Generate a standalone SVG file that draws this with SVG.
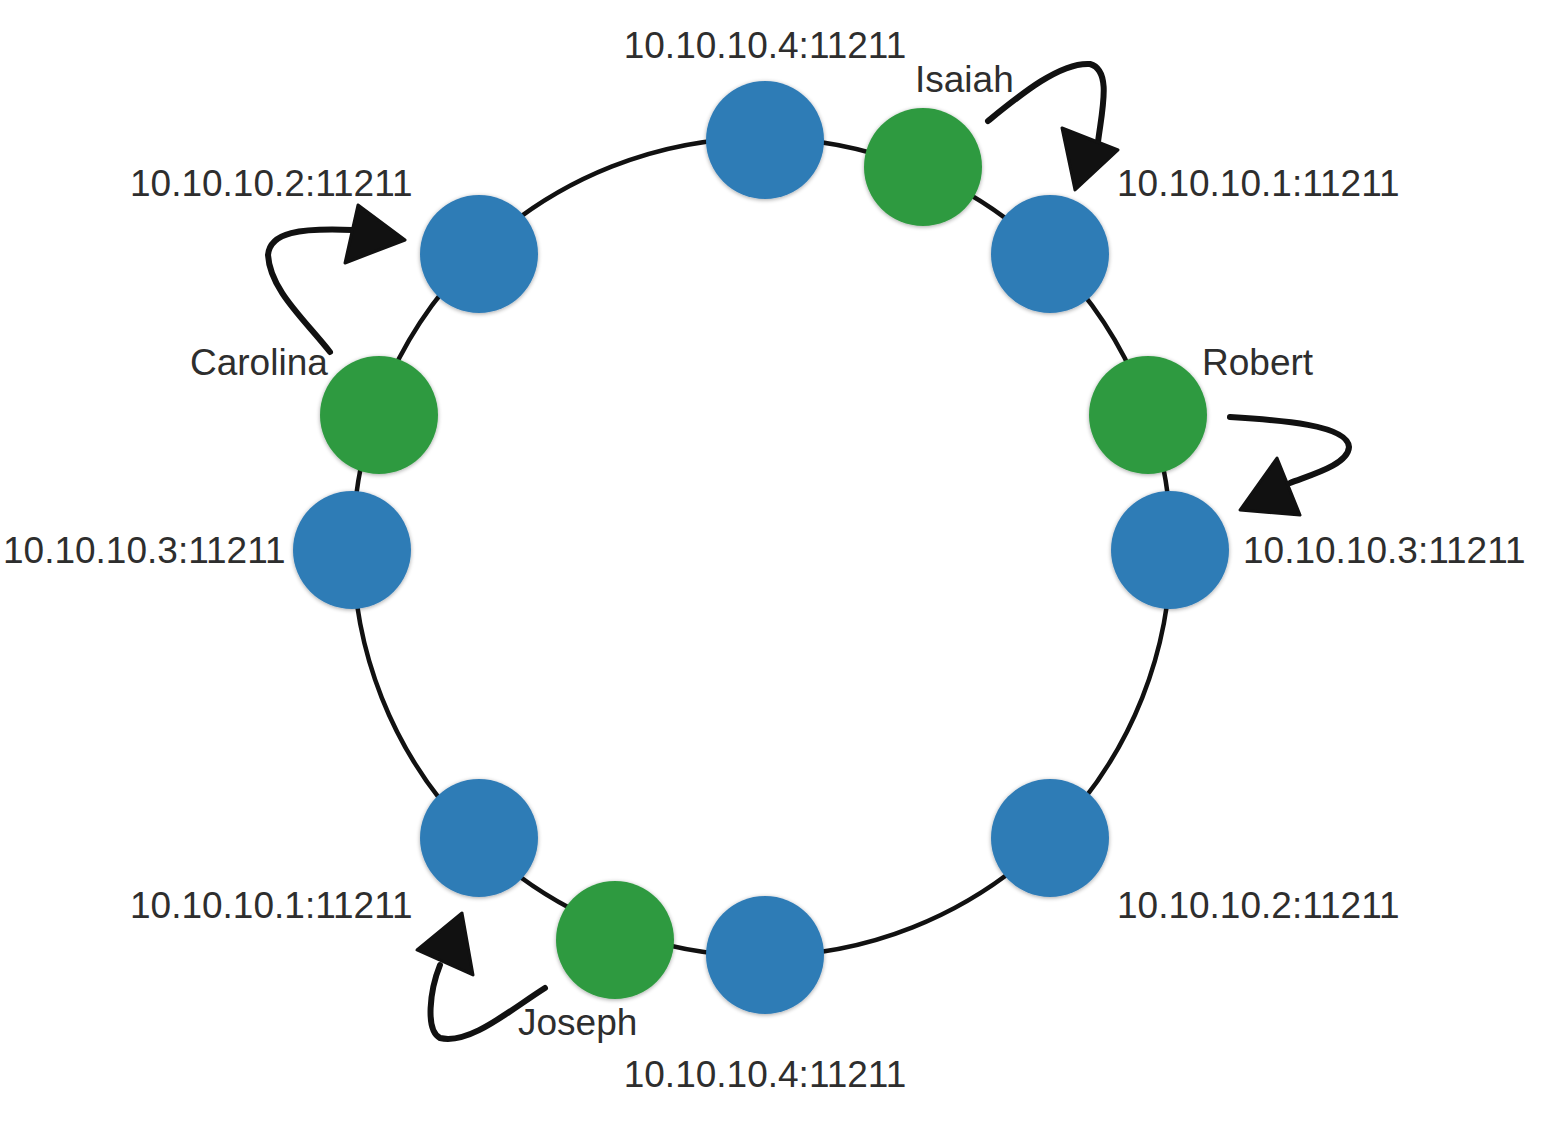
<svg xmlns="http://www.w3.org/2000/svg" width="1566" height="1132" viewBox="0 0 1566 1132">
<style>
.blue{fill:#2f7bb6}
.green{fill:#2f9a40}
.lbl{font-family:"Liberation Sans",Arial,sans-serif;font-size:37px;fill:#2e2e2e}
.ring{fill:none;stroke:#111;stroke-width:4.5}
.arr{fill:none;stroke:#111;stroke-width:6;stroke-linecap:round;stroke-linejoin:round}
.head{fill:#111;stroke:#111;stroke-width:3;stroke-linejoin:round}
</style>
<defs>
<filter id="sh" x="-20%" y="-20%" width="140%" height="140%">
<feGaussianBlur in="SourceAlpha" stdDeviation="2"/>
<feOffset dx="0" dy="1" result="b"/>
<feComponentTransfer><feFuncA type="linear" slope="0.35"/></feComponentTransfer>
<feMerge><feMergeNode/><feMergeNode in="SourceGraphic"/></feMerge>
</filter>
</defs>
<rect width="1566" height="1132" fill="#fff"/>
<g id="connectors">
<circle class="ring" cx="762" cy="547" r="409"/>
<path class="arr" d="M988,121 C1020,95 1060,62 1090,64 C1112,70 1102,110 1098,142"/>
<polygon class="head" points="1062,128 1118,150 1075,190"/>
<path class="arr" d="M330,352 C305,320 270,290 268,255 C270,232 300,228 352,230"/>
<polygon class="head" points="358,205 405,240 345,263"/>
<path class="arr" d="M1230,417 C1280,420 1348,425 1349,447 C1348,465 1310,475 1290,483"/>
<polygon class="head" points="1277,458 1300,515 1240,510"/>
<path class="arr" d="M545,988 C510,1010 470,1045 440,1038 C425,1030 430,990 440,965"/>
<polygon class="head" points="462,913 473,975 417,950"/>
</g>
<g id="n-ip4-top" filter="url(#sh)"><circle class="blue" cx="765" cy="140" r="59"/></g>
<g id="n-isaiah" filter="url(#sh)"><circle class="green" cx="923" cy="167" r="59"/></g>
<g id="n-ip1-top" filter="url(#sh)"><circle class="blue" cx="1050" cy="254" r="59"/></g>
<g id="n-robert" filter="url(#sh)"><circle class="green" cx="1148" cy="415" r="59"/></g>
<g id="n-ip3-right" filter="url(#sh)"><circle class="blue" cx="1170" cy="550" r="59"/></g>
<g id="n-ip2-bottom" filter="url(#sh)"><circle class="blue" cx="1050" cy="838" r="59"/></g>
<g id="n-ip4-bottom" filter="url(#sh)"><circle class="blue" cx="765" cy="955" r="59"/></g>
<g id="n-joseph" filter="url(#sh)"><circle class="green" cx="615" cy="940" r="59"/></g>
<g id="n-ip1-bottom" filter="url(#sh)"><circle class="blue" cx="479" cy="838" r="59"/></g>
<g id="n-ip3-left" filter="url(#sh)"><circle class="blue" cx="352" cy="550" r="59"/></g>
<g id="n-carolina" filter="url(#sh)"><circle class="green" cx="379" cy="415" r="59"/></g>
<g id="n-ip2-top" filter="url(#sh)"><circle class="blue" cx="479" cy="254" r="59"/></g>
<g id="labels">
<text class="lbl" x="765" y="58" text-anchor="middle">10.10.10.4:11211</text>
<text class="lbl" x="915" y="92">Isaiah</text>
<text class="lbl" x="1117" y="196">10.10.10.1:11211</text>
<text class="lbl" x="130" y="196">10.10.10.2:11211</text>
<text class="lbl" x="190" y="375">Carolina</text>
<text class="lbl" x="1202" y="375">Robert</text>
<text class="lbl" x="3" y="563">10.10.10.3:11211</text>
<text class="lbl" x="1243" y="563">10.10.10.3:11211</text>
<text class="lbl" x="130" y="918">10.10.10.1:11211</text>
<text class="lbl" x="1117" y="918">10.10.10.2:11211</text>
<text class="lbl" x="518" y="1035">Joseph</text>
<text class="lbl" x="765" y="1087" text-anchor="middle">10.10.10.4:11211</text>
</g>
</svg>
